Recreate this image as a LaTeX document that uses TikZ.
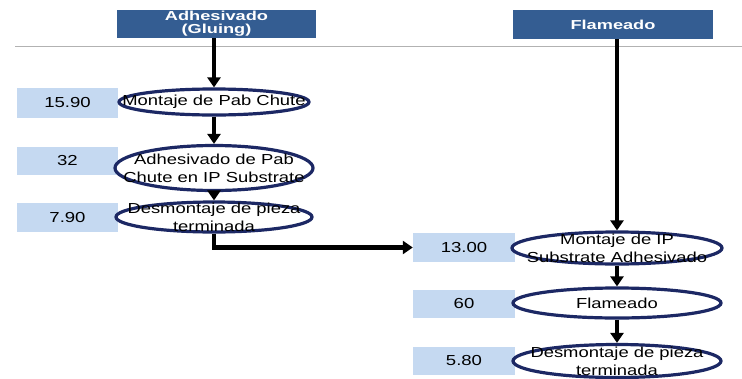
\documentclass[tikz,border=0pt]{standalone}
\usepackage{fontspec}
\setmainfont{Liberation Sans}
\usetikzlibrary{shapes.geometric,arrows.meta}
\definecolor{hdrblue}{RGB}{52,93,146}
\definecolor{boxblue}{RGB}{197,217,241}
\definecolor{ellnavy}{RGB}{28,40,100}
\tikzset{
  hdr/.style={draw=none,fill=hdrblue,minimum width=199pt,inner sep=0pt},
  hdrtxt/.style={text=white,font=\fontsize{13}{13}\selectfont\bfseries,align=center,xscale=1.4,inner sep=0pt},
  numbox/.style={draw=none,fill=boxblue,minimum width=101pt,inner sep=0pt},
  numtxt/.style={font=\fontsize{14.5}{16}\selectfont,xscale=1.28,inner sep=0pt},
  oval/.style={ellipse,draw=ellnavy,line width=3.2pt,fill=white,inner sep=0pt},
  ovaltxt/.style={font=\fontsize{14.5}{18}\selectfont,align=center,xscale=1.27,inner sep=0pt},
  flow/.style={line width=4.2pt,-{Triangle[length=10pt,width=13pt]}}
}
\begin{document}
\begin{tikzpicture}[x=1pt,y=1pt]
\useasboundingbox (0,0) rectangle (742,-378);
% separator line
\coordinate (ls) at (15,-46);
\coordinate (le) at (742,-46);
\draw[gray!60,line width=1pt] (ls) -- (le);
% headers
\node[hdr,minimum height=28pt] (h1) at (216.5,-24) {};
\node[hdrtxt] at (h1) {Adhesivado\\(Gluing)};
\node[hdr,minimum width=200pt,minimum height=29pt] (h2) at (613,-24.5) {};
\node[hdrtxt] at (h2) {Flameado};
% number boxes
\node[numbox,minimum height=30pt] (b1) at (67.5,-103) {};
\node[numtxt] at (b1) {15.90};
\node[numbox,minimum height=28pt] (b2) at (67.5,-161) {};
\node[numtxt] at (b2) {32};
\node[numbox,minimum height=29pt] (b3) at (67.5,-217.5) {};
\node[numtxt] at (b3) {7.90};
\node[numbox,minimum width=102pt,minimum height=29pt] (b4) at (464,-247.5) {};
\node[numtxt] at (b4) {13.00};
\node[numbox,minimum width=102pt,minimum height=28pt] (b5) at (464,-304) {};
\node[numtxt] at (b5) {60};
\node[numbox,minimum width=102pt,minimum height=28pt] (b6) at (464,-361) {};
\node[numtxt] at (b6) {5.80};
% ovals
\node[oval,minimum width=190pt,minimum height=26pt] (e1) at (214,-102) {};
\node[ovaltxt] at (e1) {Montaje de Pab Chute};
\node[oval,minimum width=198pt,minimum height=45pt] (e2) at (214,-168) {};
\node[ovaltxt] at (e2) {Adhesivado de Pab\\Chute en IP Substrate};
\node[oval,minimum width=196pt,minimum height=30pt] (e3) at (214,-217) {};
\node[ovaltxt] at (e3) {Desmontaje de pieza\\terminada};
\node[oval,minimum width=210pt,minimum height=32pt] (e4) at (617,-248) {};
\node[ovaltxt] at (e4) {Montaje de IP\\Substrate Adhesivado};
\node[oval,minimum width=208pt,minimum height=30pt] (e5) at (617,-303) {};
\node[ovaltxt] at (e5) {Flameado};
\node[oval,minimum width=208pt,minimum height=33pt] (e6) at (617,-361) {};
\node[ovaltxt] at (e6) {Desmontaje de pieza\\terminada};
% connectors
\draw[flow] (h1.south -| e1.north) -- (e1.north);
\draw[flow] (e1.south) -- (e2.north);
\draw[flow] (e2.south) -- (e3.north);
\draw[flow] (e3.south) |- (b4.west);
\draw[flow] (h2.south -| e4.north) -- (e4.north);
\draw[flow] (e4.south) -- (e5.north);
\draw[flow] (e5.south) -- (e6.north);
\end{tikzpicture}
\end{document}
